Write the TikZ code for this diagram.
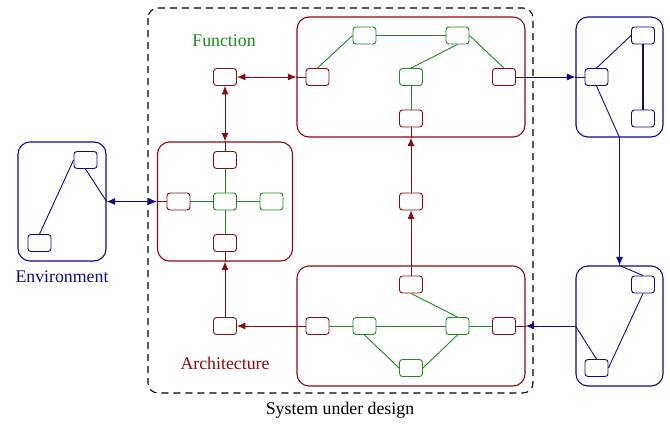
\documentclass[tikz,border=0pt]{standalone}
\usepackage{fontspec}
\setmainfont{Liberation Serif}
\usetikzlibrary{arrows.meta}
\definecolor{dred}{RGB}{140,10,10}
\definecolor{dgreen}{RGB}{25,140,25}
\definecolor{dblue}{RGB}{10,10,140}
\tikzset{
  sbox/.style={draw, rounded corners=3pt, minimum width=23pt, minimum height=17pt, inner sep=0pt, fill=white, line width=0.9pt},
  rn/.style={sbox, draw=dred},
  gn/.style={sbox, draw=dgreen},
  bn/.style={sbox, draw=dblue},
  bigbox/.style={draw, rounded corners=12pt, line width=1.1pt, inner sep=0pt},
  rline/.style={draw=dred, line width=0.9pt},
  gline/.style={draw=dgreen, line width=0.9pt},
  bline/.style={draw=dblue, line width=0.9pt},
  tip/.style={arrows={-Latex[length=8.5pt,width=7pt]}},
  dtip/.style={arrows={Latex[length=8.5pt,width=7pt]-Latex[length=8.5pt,width=7pt]}},
  lbl/.style={font=\fontsize{17.8}{20}\selectfont, inner sep=0pt}
}
\begin{document}
\begin{tikzpicture}[x=1pt,y=-1pt]
\useasboundingbox (0,0) rectangle (670,426);
% system under design
\draw[black, dash pattern=on 7pt off 5pt, line width=1.1pt, rounded corners=10pt] (148,8) rectangle (533,393);
\node[lbl] (sud) at (340,410) {System under design};
% big boxes
\node[bigbox, draw=dblue, minimum width=88pt, minimum height=119pt] (env) at (62,201.5) {};
\node[bigbox, draw=dred, minimum width=135pt, minimum height=119pt] (boxL) at (225,201.5) {};
\node[bigbox, draw=dred, minimum width=228pt, minimum height=120pt] (boxF) at (411,77) {};
\node[bigbox, draw=dred, minimum width=228pt, minimum height=120pt] (boxA) at (411,326) {};
\node[bigbox, draw=dblue, minimum width=87pt, minimum height=120pt] (boxR1) at (619.5,77) {};
\node[bigbox, draw=dblue, minimum width=87pt, minimum height=120pt] (boxR2) at (619.5,326) {};
% labels
\node[lbl, text=dblue] (envlbl) at (62,277) {Environment};
\node[lbl, text=dgreen] (funlbl) at (224,41) {Function};
\node[lbl, text=dred] (archlbl) at (225,363) {Architecture};
% environment nodes
\node[bn] (E1) at (85.5,160) {};
\node[bn] (E2) at (39.5,243) {};
% left box nodes
\node[rn] (Lt) at (225,160) {};
\node[gn] (Lc) at (225,201.5) {};
\node[rn] (Ll) at (178.5,201.5) {};
\node[gn] (Lr) at (271.5,201.5) {};
\node[rn] (Lb) at (225,243) {};
% small free nodes
\node[rn] (Fs) at (225,77) {};
\node[rn] (As) at (225,326) {};
\node[rn] (Ms) at (411,201.5) {};
% function box nodes
\node[rn] (Fl) at (317.5,77) {};
\node[gn] (Fg1) at (364.5,35.5) {};
\node[gn] (Fg2) at (457.5,35.5) {};
\node[gn] (Fm) at (411,77) {};
\node[rn] (Fr) at (504,77) {};
\node[rn] (Fb) at (411,118.5) {};
% architecture box nodes
\node[rn] (At) at (411,284.5) {};
\node[rn] (Al) at (317.5,326) {};
\node[gn] (Ag1) at (364.5,326) {};
\node[gn] (Ag2) at (457.5,326) {};
\node[rn] (Ar) at (504,326) {};
\node[gn] (Agb) at (411,368) {};
% right boxes nodes
\node[bn] (R1l) at (596.5,77) {};
\node[bn] (R1t) at (643,35.5) {};
\node[bn] (R1b) at (643,118.5) {};
\node[bn] (R2t) at (643,284.5) {};
\node[bn] (R2b) at (596.5,368) {};
% environment links
\draw[bline] (E2.north) -- (E1.west);
\draw[bline] (E1.south) -- (env.east);
\draw[bline, dtip] (env.east) -- (boxL.west);
% left box links
\draw[rline] (boxL.west) -- (Ll.west);
\draw[gline] (Ll) -- (Lc) -- (Lr);
\draw[gline] (Lt) -- (Lc) -- (Lb);
\draw[rline] (boxL.north) -- (Lt.north);
\draw[rline] (boxL.south) -- (Lb.south);
\draw[rline, dtip] (Fs.south) -- (boxL.north);
\draw[rline, tip] (As.north) -- (boxL.south);
\draw[rline, dtip] (Fs.east) -- (boxF.west);
% function box links
\draw[rline] (boxF.west) -- (Fl.west);
\draw[gline] (Fl.north) -- (Fg1.west);
\draw[gline] (Fg1.east) -- (Fg2.west);
\draw[gline] (Fg2.south) -- (Fm.north);
\draw[gline] (Fg2.east) -- (Fr.north);
\draw[gline] (Fm.south) -- (Fb.north);
\draw[rline] (boxF.south) -- (Fb.south);
\draw[rline] (Fr.east) -- (boxF.east);
\draw[bline, tip] (boxF.east) -- (boxR1.west);
% middle column
\draw[rline, tip] (Ms.north) -- (boxF.south);
\draw[rline, tip] (boxA.north) -- (Ms.south);
% architecture box links
\draw[rline] (boxA.north) -- (At.north);
\draw[gline] (Al) -- (Ag1) -- (Ag2) -- (Ar);
\draw[gline] (At.south) -- (Ag2.north);
\draw[gline] (Ag1.south) -- (Agb.west);
\draw[gline] (Ag2.south) -- (Agb.east);
\draw[rline] (Al.west) -- (boxA.west);
\draw[rline, tip] (boxA.west) -- (As.east);
\draw[rline] (Ar.east) -- (boxA.east);
% right boxes links
\draw[bline] (boxR1.west) -- (R1l.west);
\draw[bline] (R1l.north) -- (R1t.west);
\draw[bline, line width=1.2pt] (R1t.south) -- (R1b.north);
\draw[bline] (R1l.south) -- (boxR1.south);
\draw[bline, tip] (boxR1.south) -- (boxR2.north);
\draw[bline] (boxR2.north) -- (R2t.north);
\draw[bline] (R2t.south) -- (R2b.east);
\draw[bline] (boxR2.west) -- (R2b.north);
\draw[bline, tip] (boxR2.west) -- (boxA.east);
\end{tikzpicture}
\end{document}
